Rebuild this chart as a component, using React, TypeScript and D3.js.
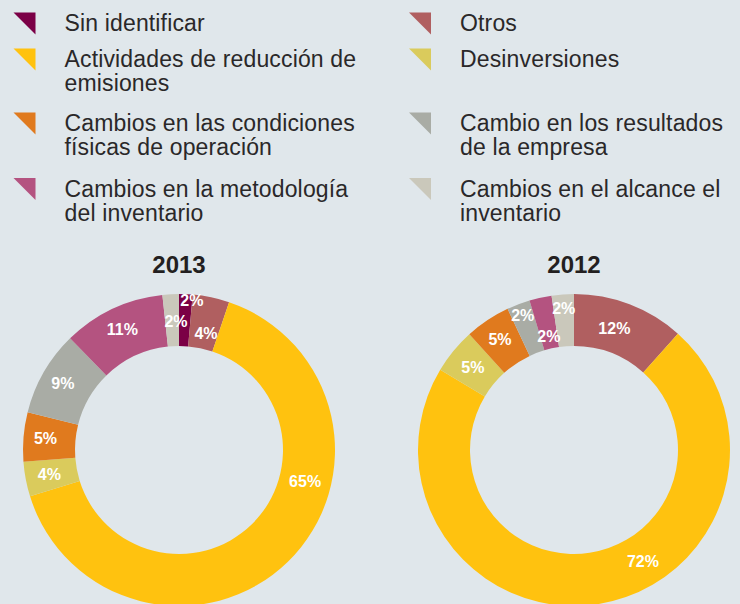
import React from "react";
import * as d3 from "d3";

// ---- data ----
const categories = [
  "Sin identificar",
  "Otros",
  "Actividades de reducción de emisiones",
  "Desinversiones",
  "Cambios en las condiciones físicas de operación",
  "Cambio en los resultados de la empresa",
  "Cambios en la metodología del inventario",
  "Cambios en el alcance el inventario",
];
const legendLines = [
  ["Sin identificar"],
  ["Otros"],
  ["Actividades de reducción de", "emisiones"],
  ["Desinversiones"],
  ["Cambios en las condiciones", "físicas de operación"],
  ["Cambio en los resultados", "de la empresa"],
  ["Cambios en la metodología", "del inventario"],
  ["Cambios en el alcance el", "inventario"],
];
const colors = ["#7b0046", "#b05f60", "#ffc20f", "#dacb5c", "#e07a1e", "#a9aca5", "#b45380", "#cac8bb"];

const years = ["2013", "2012"];
const values2013 = [1.4, 3.8, 65.0, 3.6, 5.1, 8.8, 10.6, 1.7];
const labels2013 = ["2%", "4%", "65%", "4%", "5%", "9%", "11%", "2%"];
const values2012 = [0, 11.6, 72.0, 4.7, 4.7, 2.4, 2.3, 2.3];
const labels2012 = ["", "12%", "72%", "5%", "5%", "2%", "2%", "2%"];

// ---- layout (not data) ----
const W = 740;
const H = 604;
const FONT = "'Liberation Sans', Arial, Helvetica, sans-serif";
const R_OUT = 156;
const R_IN = 104;
const centersX = [179, 574];
const CY = 450;
// per-slice label radius and angle shift (degrees) for each donut
const labelLayout = [
  { r: [150, 120, 130, 132, 134, 134, 133, 129], shift: [2.4, 1.1, -31.7, 0, 0, 0, 0, 1.7] },
  { r: [130, 128, 131, 131, 133.5, 144, 117, 142], shift: [0, -2.5, -23.1, 0, 0, 0, 0, 0] },
];
const rowBaselines = [31, 67, 131, 196.5];
const colTri = [13.5, 409];
const colText = [64.5, 460];

function Donut({ idx, values, labels }: { idx: number; values: number[]; labels: string[] }) {
  const pie = d3.pie<number>().sort(null).value((d) => d).startAngle(0).endAngle(2 * Math.PI);
  const arcs = pie(values);
  const arc = d3.arc<d3.PieArcDatum<number>>().innerRadius(R_IN).outerRadius(R_OUT);
  const cx = centersX[idx];
  const lay = labelLayout[idx];
  return (
    <g transform={`translate(${cx},${CY})`}>
      {arcs.map((a, i) =>
        a.value > 0 ? <path key={i} d={arc(a) || ""} fill={colors[i]} /> : null
      )}
      {arcs.map((a, i) => {
        if (!labels[i]) return null;
        const mid = (a.startAngle + a.endAngle) / 2 + (lay.shift[i] * Math.PI) / 180;
        const r = lay.r[i];
        const x = r * Math.sin(mid);
        const y = -r * Math.cos(mid);
        return (
          <text
            key={"t" + i}
            x={x}
            y={y}
            dy="0.36em"
            textAnchor="middle"
            fill="#ffffff"
            fontFamily={FONT}
            fontWeight="bold"
            fontSize={16}
          >
            {labels[i]}
          </text>
        );
      })}
      <text
        x={0}
        y={273 - CY}
        textAnchor="middle"
        fill="#231f20"
        fontFamily={FONT}
        fontWeight="bold"
        fontSize={24}
      >
        {years[idx]}
      </text>
    </g>
  );
}

export default function App() {
  return (
    <div style={{ position: "absolute", left: 0, top: 0, width: W, height: H, overflow: "hidden" }}>
      <svg width={W} height={H} style={{ display: "block", background: "#e0e7eb" }}>
        <rect x={0} y={0} width={W} height={H} fill="#e0e7eb" />
        {categories.map((c, i) => {
          const col = i % 2;
          const row = Math.floor(i / 2);
          const base = rowBaselines[row];
          const tx = colTri[col];
          const ty = base - 18.5;
          return (
            <g key={c}>
              <path d={`M${tx},${ty}L${tx + 22},${ty}L${tx + 22},${ty + 22}Z`} fill={colors[i]} />
              <text
                x={colText[col]}
                y={base}
                fill="#2a2829"
                fontFamily={FONT}
                fontSize={23}
                letterSpacing={0.15}
              >
                {legendLines[i].map((ln, j) => (
                  <tspan key={j} x={colText[col]} dy={j === 0 ? 0 : 24.3}>
                    {ln}
                  </tspan>
                ))}
              </text>
            </g>
          );
        })}
        <Donut idx={0} values={values2013} labels={labels2013} />
        <Donut idx={1} values={values2012} labels={labels2012} />
      </svg>
    </div>
  );
}
